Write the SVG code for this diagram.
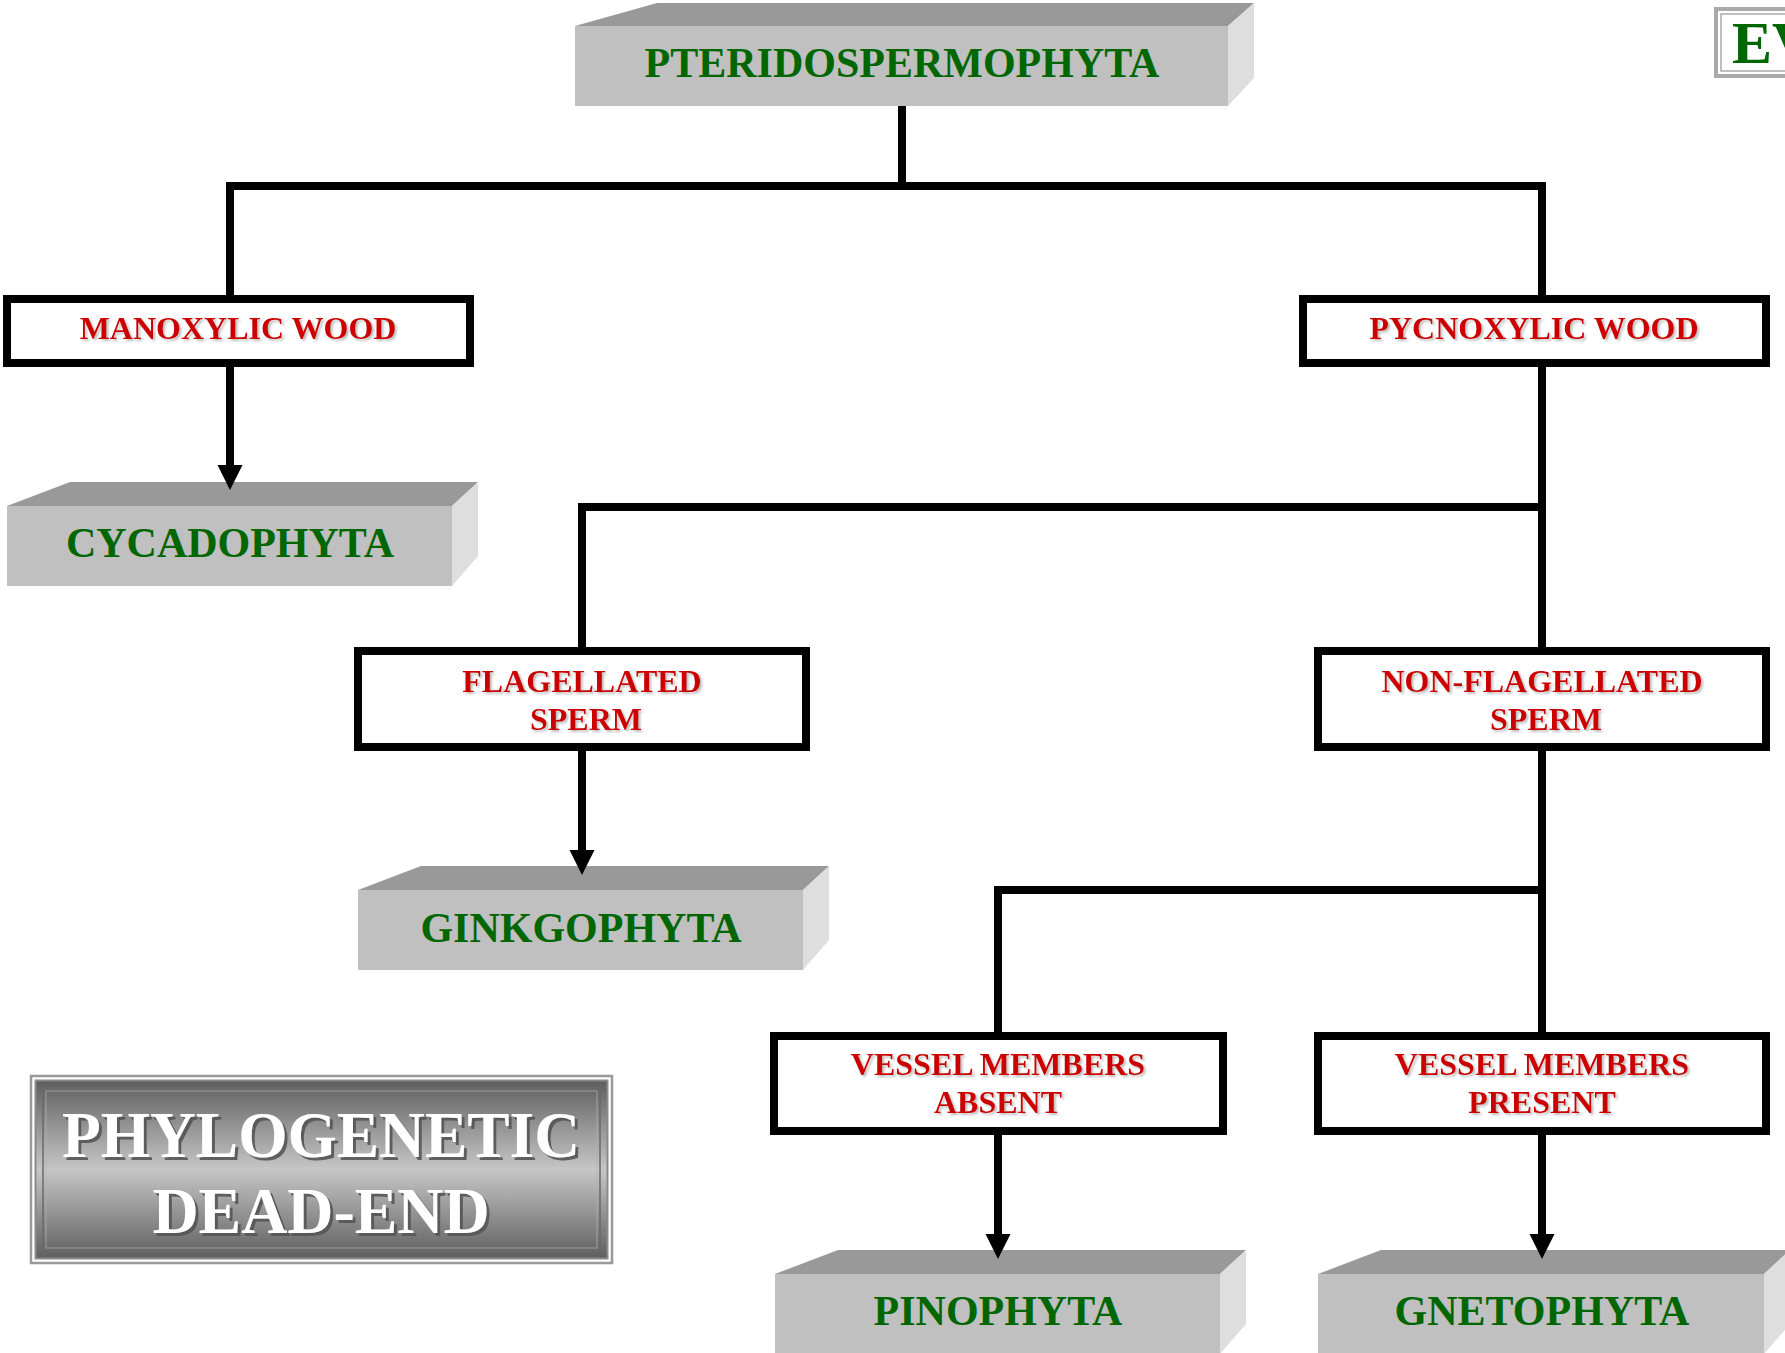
<svg xmlns="http://www.w3.org/2000/svg" width="1785" height="1353" viewBox="0 0 1785 1353">
<defs>
<style>
.top{fill:#999999}
.front{fill:#C0C0C0}
.side{fill:#DEDEDE}
.grn{font-family:"Liberation Serif","Times New Roman",serif;font-weight:bold;font-size:42px;fill:#006600;text-anchor:middle}
.red{font-family:"Liberation Serif","Times New Roman",serif;font-weight:bold;font-size:32px;fill:#CC0000;text-anchor:middle;filter:url(#rs)}
.box{fill:#FFFFFF;stroke:#000000;stroke-width:8}
.conn{fill:none;stroke:#000000;stroke-width:8;stroke-linejoin:miter;stroke-linecap:butt}
.big{font-family:"Liberation Serif","Times New Roman",serif;font-weight:bold;font-size:66px;fill:#FFFFFF;text-anchor:middle;filter:url(#ws)}
</style>
<filter id="rs" x="-10%" y="-20%" width="120%" height="150%">
<feDropShadow dx="2" dy="2" stdDeviation="0.8" flood-color="#888888" flood-opacity="0.55"/>
</filter>
<filter id="ws" x="-10%" y="-20%" width="120%" height="150%">
<feDropShadow dx="3" dy="3" stdDeviation="0.6" flood-color="#555555" flood-opacity="0.9"/>
</filter>
<linearGradient id="pg" x1="0" y1="0" x2="0" y2="1">
<stop offset="0" stop-color="#5e5e5e"/>
<stop offset="0.5" stop-color="#c6c6c6"/>
<stop offset="1" stop-color="#5e5e5e"/>
</linearGradient>
<marker id="arr" markerUnits="userSpaceOnUse" markerWidth="26" markerHeight="26" refX="1" refY="13" orient="auto" overflow="visible">
<path d="M0,0.5 L25,13 L0,25.5 Z" fill="#000000"/>
</marker>
</defs>
<rect width="1785" height="1353" fill="#FFFFFF"/>

<g id="pteridospermophyta">
<polygon class="top" points="575,26 657,3 1254,3 1228,26"/>
<rect class="front" x="575" y="26" width="653" height="80"/>
<polygon class="side" points="1228,26 1254,3 1254,78 1228,106"/>
<text class="grn" x="902" y="77">PTERIDOSPERMOPHYTA</text>
</g>

<g id="ev">
<rect x="1716" y="9" width="100" height="67" fill="#FFFFFF" stroke="#AAAAAA" stroke-width="4"/>
<rect x="1721" y="14" width="100" height="57" fill="none" stroke="#AAAAAA" stroke-width="1.5"/>
<text x="1732" y="63" font-family="Liberation Serif, Times New Roman, serif" font-weight="bold" font-size="60" fill="#006600">EV</text>
</g>

<g id="manoxylic">
<rect class="box" x="7" y="299" width="463" height="64"/>
<text class="red" x="238" y="339">MANOXYLIC WOOD</text>
</g>

<g id="pycnoxylic">
<rect class="box" x="1303" y="299" width="463" height="64"/>
<text class="red" x="1534" y="339">PYCNOXYLIC WOOD</text>
</g>

<g id="cycadophyta">
<polygon class="top" points="7,506 70,482 478,482 452,506"/>
<rect class="front" x="7" y="506" width="445" height="80"/>
<polygon class="side" points="452,506 478,482 478,556 452,586"/>
<text class="grn" x="230" y="557">CYCADOPHYTA</text>
</g>

<g id="flagellated">
<rect class="box" x="358" y="651" width="448" height="96"/>
<text class="red" x="582" y="692">FLAGELLATED</text>
<text class="red" x="586" y="730">SPERM</text>
</g>

<g id="nonflagellated">
<rect class="box" x="1318" y="651" width="448" height="96"/>
<text class="red" x="1542" y="692">NON-FLAGELLATED</text>
<text class="red" x="1546" y="730">SPERM</text>
</g>

<g id="ginkgophyta">
<polygon class="top" points="358,890 421,866 829,866 803,890"/>
<rect class="front" x="358" y="890" width="445" height="80"/>
<polygon class="side" points="803,890 829,866 829,940 803,970"/>
<text class="grn" x="581" y="942">GINKGOPHYTA</text>
</g>

<g id="vessel-absent">
<rect class="box" x="774" y="1036" width="449" height="95"/>
<text class="red" x="998" y="1075">VESSEL MEMBERS</text>
<text class="red" x="998" y="1113">ABSENT</text>
</g>

<g id="vessel-present">
<rect class="box" x="1318" y="1036" width="448" height="95"/>
<text class="red" x="1542" y="1075">VESSEL MEMBERS</text>
<text class="red" x="1542" y="1113">PRESENT</text>
</g>

<g id="pinophyta">
<polygon class="top" points="775,1274 838,1250 1246,1250 1220,1274"/>
<rect class="front" x="775" y="1274" width="445" height="80"/>
<polygon class="side" points="1220,1274 1246,1250 1246,1324 1220,1354"/>
<text class="grn" x="998" y="1325">PINOPHYTA</text>
</g>

<g id="gnetophyta">
<polygon class="top" points="1318,1274 1381,1250 1790,1250 1764,1274"/>
<rect class="front" x="1318" y="1274" width="446" height="80"/>
<polygon class="side" points="1764,1274 1790,1250 1790,1324 1764,1354"/>
<text class="grn" x="1542" y="1325">GNETOPHYTA</text>
</g>

<g id="dead-end">
<rect x="31" y="1076" width="581" height="187" fill="#FFFFFF" stroke="#999999" stroke-width="2.5"/>
<rect x="35.5" y="1080.5" width="572" height="178" fill="url(#pg)" stroke="#8a8a8a" stroke-width="2"/>
<rect x="43" y="1088" width="557" height="163" fill="none" stroke="#6a6a6a" stroke-width="1.5"/>
<rect x="46" y="1091" width="551" height="157" fill="none" stroke="#b0b0b0" stroke-width="1" opacity="0.7"/>
<text class="big" x="321" y="1157" textLength="518" lengthAdjust="spacingAndGlyphs">PHYLOGENETIC</text>
<text class="big" x="321" y="1233" textLength="337" lengthAdjust="spacingAndGlyphs">DEAD-END</text>
</g>

<g id="connectors">
<path class="conn" d="M902,106 V186"/>
<path class="conn" d="M230,295 V186 H1542 V295"/>
<path class="conn" d="M230,367 V466" marker-end="url(#arr)"/>
<path class="conn" d="M1542,367 V647"/>
<path class="conn" d="M582,647 V507 H1542"/>
<path class="conn" d="M582,751 V851" marker-end="url(#arr)"/>
<path class="conn" d="M1542,751 V1032"/>
<path class="conn" d="M998,1032 V890 H1542"/>
<path class="conn" d="M998,1135 V1235" marker-end="url(#arr)"/>
<path class="conn" d="M1542,1135 V1235" marker-end="url(#arr)"/>
</g>
</svg>
